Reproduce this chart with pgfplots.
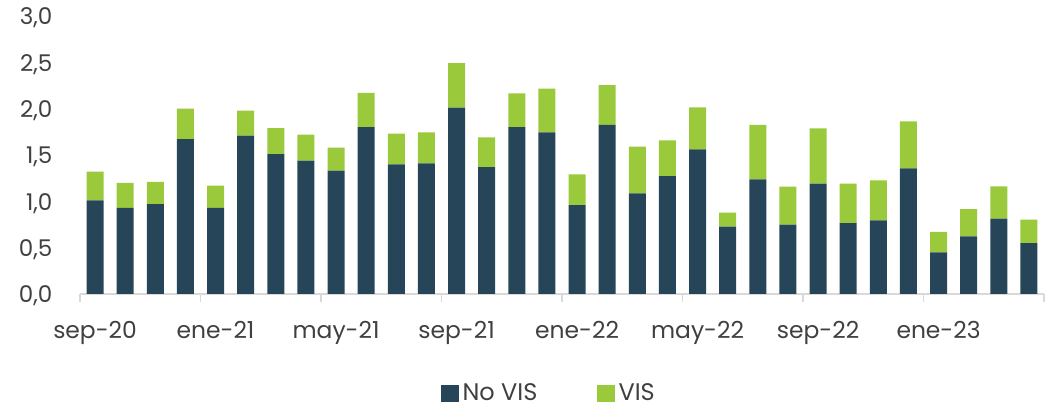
\documentclass[border=0pt]{standalone}
\usepackage{fontspec}
\setmainfont{Poppins}
\usepackage{pgfplots}
\pgfplotsset{compat=1.18}
\definecolor{novis}{HTML}{274559}
\definecolor{vis}{HTML}{9ACA3C}
\definecolor{axgray}{HTML}{D9D9D9}
\definecolor{txt}{HTML}{404040}
\begin{document}
\begin{tikzpicture}
\path[use as bounding box] (-40pt,-58pt) rectangle (485pt,147pt);
\begin{axis}[
  at={(0,0)}, anchor=south west,
  scale only axis,
  width=482pt, height=139pt,
  ybar stacked,
  bar width=8.5pt,
  xmin=-0.5, xmax=31.5,
  ymin=0, ymax=3,
  ytick={0,0.5,...,3},
  axis x line*=bottom,
  axis y line*=left,
  y axis line style={draw=none},
  major y tick style={draw=none},
  x axis line style={draw=axgray, line width=0.8pt, -},
  xtick={0,4,...,28},
  xticklabels={sep-20,ene-21,may-21,sep-21,ene-22,may-22,sep-22,ene-23},
  major x tick style={draw=none},
  minor xtick={-0.5,3.5,...,31.5},
  minor x tick style={draw=axgray, line width=0.8pt},
  minor tick length=4pt,
  tick align=outside,
  xticklabel style={font=\fontsize{11.7}{13}\selectfont, text=txt, yshift=-6pt},
  yticklabel style={font=\fontsize{11.5}{13}\selectfont, text=txt, xshift=-6pt, yshift=-1pt},
  /pgf/number format/.cd, use comma, fixed, fixed zerofill, precision=1, assume math mode=true,
  /pgfplots/.cd,
  legend style={at={(0.4876,-0.358)}, anchor=center, draw=none, fill=none,
    inner sep=1pt,
    font=\fontsize{12}{13}\selectfont, text=txt, legend columns=2,
    /tikz/every even column/.append style={column sep=28pt}},
  legend image code/.code={\fill[#1] (0pt,-4.3pt) rectangle (8.6pt,4.3pt);},
]
\addplot[fill=novis, draw=none] coordinates {
(0,1.01) (1,0.93) (2,0.97) (3,1.67) (4,0.93) (5,1.71) (6,1.51) (7,1.44)
(8,1.33) (9,1.80) (10,1.40) (11,1.41) (12,2.01) (13,1.37) (14,1.80) (15,1.745)
(16,0.96) (17,1.824) (18,1.086) (19,1.273) (20,1.561) (21,0.727) (22,1.237) (23,0.748)
(24,1.19) (25,0.766) (26,0.795) (27,1.356) (28,0.45) (29,0.622) (30,0.813) (31,0.55)
};
\addlegendentry{No VIS}
\addplot[fill=vis, draw=none] coordinates {
(0,0.31) (1,0.27) (2,0.24) (3,0.33) (4,0.24) (5,0.27) (6,0.28) (7,0.28)
(8,0.25) (9,0.37) (10,0.33) (11,0.335) (12,0.48) (13,0.32) (14,0.365) (15,0.471)
(16,0.33) (17,0.431) (18,0.504) (19,0.385) (20,0.453) (21,0.151) (22,0.587) (23,0.41)
(24,0.598) (25,0.424) (26,0.432) (27,0.507) (28,0.219) (29,0.295) (30,0.349) (31,0.252)
};
\addlegendentry{VIS}
\end{axis}
\end{tikzpicture}
\end{document}
